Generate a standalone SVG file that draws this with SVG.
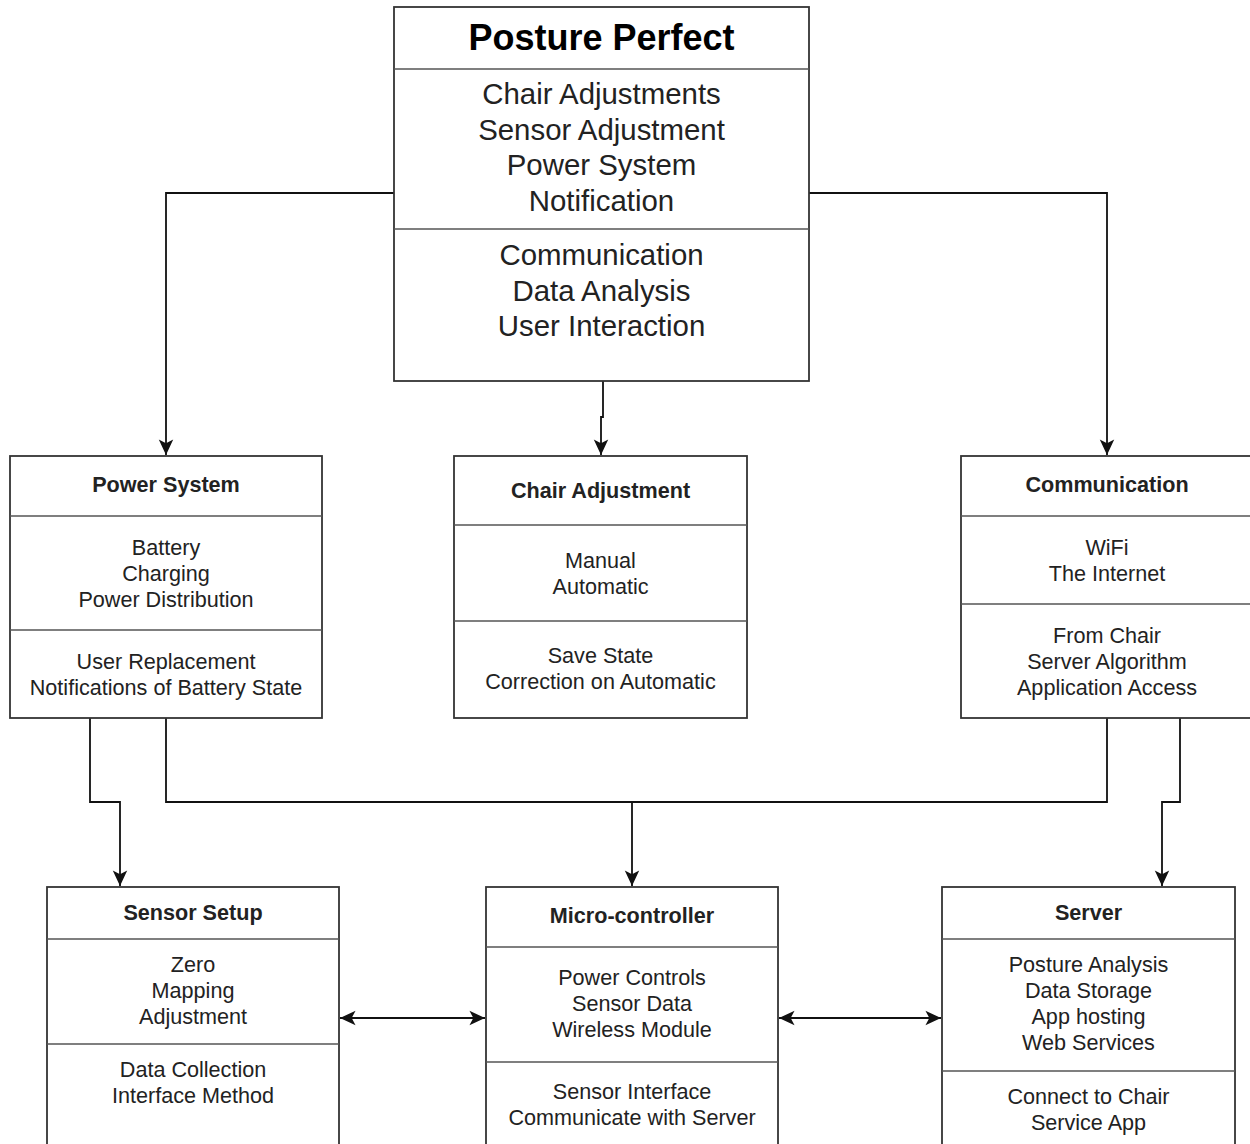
<svg xmlns="http://www.w3.org/2000/svg" width="1250" height="1144" viewBox="0 0 1250 1144">
  <style>
    .box { fill: #ffffff; stroke: #333333; stroke-width: 1.8; }
    .div { stroke: #555555; stroke-width: 1.5; fill: none; }
    .edge { fill: none; stroke: #111111; stroke-width: 1.8; }
    text { font-family: "Liberation Sans", Arial, sans-serif; text-anchor: middle; fill: #222222; }
    .title { font-size: 36px; font-weight: bold; fill: #000000; }
    .big { font-size: 29.4px; }
    .head { font-size: 21.6px; font-weight: bold; }
    .item { font-size: 21.6px; }
  </style>
  <defs>
    <marker id="arrow" markerUnits="userSpaceOnUse" markerWidth="20" markerHeight="20" viewBox="-16 -8 18 16" refX="0" refY="0" orient="auto-start-reverse">
      <path d="M0,0 L-14,-6.5 L-10.5,0 L-14,6.5 Z" fill="#111111"/>
    </marker>
  </defs>

  <rect width="1250" height="1144" fill="#ffffff"/>

  <!-- connectors -->
  <g id="connectors">
    <path class="edge" d="M394,193 H166 V455" marker-end="url(#arrow)"/>
    <path class="edge" d="M809,193 H1107 V455" marker-end="url(#arrow)"/>
    <path class="edge" d="M603,381 V417 H601 V455" marker-end="url(#arrow)"/>
    <path class="edge" d="M90,718 V802 H120 V886" marker-end="url(#arrow)"/>
    <path class="edge" d="M166,718 V802 H632 V886" marker-end="url(#arrow)"/>
    <path class="edge" d="M1107,718 V802 H632"/>
    <path class="edge" d="M1180,718 V802 H1162 V886" marker-end="url(#arrow)"/>
    <path class="edge" d="M340,1018 H485" marker-start="url(#arrow)" marker-end="url(#arrow)"/>
    <path class="edge" d="M779,1018 H941" marker-start="url(#arrow)" marker-end="url(#arrow)"/>
  </g>

  <!-- main system -->
  <g id="posture-perfect">
    <rect class="box" x="394" y="7" width="415" height="374"/>
    <line class="div" x1="394" y1="69" x2="809" y2="69"/>
    <line class="div" x1="394" y1="229" x2="809" y2="229"/>
    <text class="title" x="601.5" y="50">Posture Perfect</text>
    <text class="big" x="601.5" y="104">Chair Adjustments</text>
    <text class="big" x="601.5" y="139.5">Sensor Adjustment</text>
    <text class="big" x="601.5" y="175">Power System</text>
    <text class="big" x="601.5" y="210.5">Notification</text>
    <text class="big" x="601.5" y="265">Communication</text>
    <text class="big" x="601.5" y="300.5">Data Analysis</text>
    <text class="big" x="601.5" y="336">User Interaction</text>
  </g>

  <g id="power-system">
    <rect class="box" x="10" y="456" width="312" height="262"/>
    <line class="div" x1="10" y1="516" x2="322" y2="516"/>
    <line class="div" x1="10" y1="630" x2="322" y2="630"/>
    <text class="head" x="166" y="492">Power System</text>
    <text class="item" x="166" y="555">Battery</text>
    <text class="item" x="166" y="581">Charging</text>
    <text class="item" x="166" y="607">Power Distribution</text>
    <text class="item" x="166" y="669">User Replacement</text>
    <text class="item" x="166" y="695">Notifications of Battery State</text>
  </g>

  <g id="chair-adjustment">
    <rect class="box" x="454" y="456" width="293" height="262"/>
    <line class="div" x1="454" y1="525" x2="747" y2="525"/>
    <line class="div" x1="454" y1="621" x2="747" y2="621"/>
    <text class="head" x="600.5" y="498">Chair Adjustment</text>
    <text class="item" x="600.5" y="568">Manual</text>
    <text class="item" x="600.5" y="594">Automatic</text>
    <text class="item" x="600.5" y="663">Save State</text>
    <text class="item" x="600.5" y="689">Correction on Automatic</text>
  </g>

  <g id="communication">
    <rect class="box" x="961" y="456" width="292" height="262"/>
    <line class="div" x1="961" y1="516" x2="1253" y2="516"/>
    <line class="div" x1="961" y1="604" x2="1253" y2="604"/>
    <text class="head" x="1107" y="492">Communication</text>
    <text class="item" x="1107" y="555">WiFi</text>
    <text class="item" x="1107" y="581">The Internet</text>
    <text class="item" x="1107" y="643">From Chair</text>
    <text class="item" x="1107" y="669">Server Algorithm</text>
    <text class="item" x="1107" y="695">Application Access</text>
  </g>

  <g id="sensor-setup">
    <rect class="box" x="47" y="887" width="292" height="280"/>
    <line class="div" x1="47" y1="939" x2="339" y2="939"/>
    <line class="div" x1="47" y1="1044" x2="339" y2="1044"/>
    <text class="head" x="193" y="920">Sensor Setup</text>
    <text class="item" x="193" y="972">Zero</text>
    <text class="item" x="193" y="998">Mapping</text>
    <text class="item" x="193" y="1024">Adjustment</text>
    <text class="item" x="193" y="1077">Data Collection</text>
    <text class="item" x="193" y="1103">Interface Method</text>
  </g>

  <g id="micro-controller">
    <rect class="box" x="486" y="887" width="292" height="280"/>
    <line class="div" x1="486" y1="947" x2="778" y2="947"/>
    <line class="div" x1="486" y1="1062" x2="778" y2="1062"/>
    <text class="head" x="632" y="923">Micro-controller</text>
    <text class="item" x="632" y="985">Power Controls</text>
    <text class="item" x="632" y="1011">Sensor Data</text>
    <text class="item" x="632" y="1037">Wireless Module</text>
    <text class="item" x="632" y="1099">Sensor Interface</text>
    <text class="item" x="632" y="1125">Communicate with Server</text>
  </g>

  <g id="server">
    <rect class="box" x="942" y="887" width="293" height="280"/>
    <line class="div" x1="942" y1="939" x2="1235" y2="939"/>
    <line class="div" x1="942" y1="1071" x2="1235" y2="1071"/>
    <text class="head" x="1088.5" y="920">Server</text>
    <text class="item" x="1088.5" y="972">Posture Analysis</text>
    <text class="item" x="1088.5" y="998">Data Storage</text>
    <text class="item" x="1088.5" y="1024">App hosting</text>
    <text class="item" x="1088.5" y="1050">Web Services</text>
    <text class="item" x="1088.5" y="1104">Connect to Chair</text>
    <text class="item" x="1088.5" y="1130">Service App</text>
  </g>
</svg>
